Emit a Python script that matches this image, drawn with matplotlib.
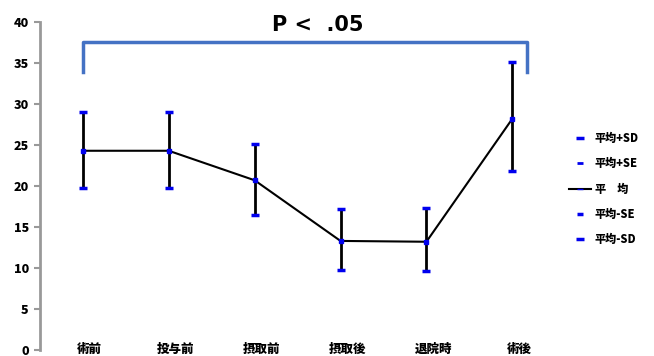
import matplotlib.pyplot as plt
from matplotlib.lines import Line2D

plt.rcParams['font.family'] = ['Noto Sans CJK JP', 'DejaVu Sans']

# データ
labels = ['術前', '投与前', '摂取前', '摂取後', '退院時', '術後']
mean = [24.3, 24.3, 20.7, 13.3, 13.2, 28.2]
sd_upper = [29.0, 29.0, 25.1, 17.2, 17.3, 35.1]
sd_lower = [19.8, 19.7, 16.5, 9.8, 9.6, 21.8]
yticks = [0, 5, 10, 15, 20, 25, 30, 35, 40]
legend_labels = ['平均+SD', '平均+SE', '平　均', '平均-SE', '平均-SD']

x = list(range(1, len(labels) + 1))

fig = plt.figure(figsize=(6.54, 3.56), dpi=100)
ax = fig.add_axes([0.061, 0.017, 0.788, 0.921])

# 誤差棒
for xi, lo, hi in zip(x, sd_lower, sd_upper):
    ax.plot([xi, xi], [lo, hi], color='black', lw=2, zorder=2)
ax.plot(x, sd_upper, ls='none', marker='_', ms=6, mew=2.5, color='#0000ee', zorder=3)
ax.plot(x, sd_lower, ls='none', marker='_', ms=6, mew=2.5, color='#0000ee', zorder=3)

# 平均
ax.plot(x, mean, color='black', lw=1.5, zorder=2)
ax.plot(x, mean, ls='none', marker='s', ms=3, color='#0000ee', zorder=4)

# 有意差の括弧
bx = [1.0, 1.0, 6.17, 6.17]
by = [33.9, 37.6, 37.6, 33.9]
ax.plot(bx, by, color='#4472c4', lw=2.5, clip_on=False)
ax.text(3.73, 39.6, 'P <  .05', ha='center', va='center', fontsize=15,
        fontweight='bold', family=['DejaVu Sans'])

ax.set_xlim(0.5, 6.5)
ax.set_ylim(0, 40)
ax.set_yticks(yticks)
ax.set_yticklabels([str(t) for t in yticks], fontweight='heavy', fontsize=9)
ax.tick_params(axis='y', length=4, width=1.5, color='#999999', pad=4)
ax.set_xticks([])
for s in ['top', 'right', 'bottom']:
    ax.spines[s].set_visible(False)
ax.spines['left'].set_color('#999999')
ax.spines['left'].set_linewidth(2)

for xi, lab in zip(x, labels):
    ax.text(xi + 0.08, 0.1, lab, ha='center', va='center', fontsize=9, fontweight='heavy')

# 凡例
handles = [
    Line2D([], [], ls='none', marker='_', ms=6, mew=2.5, color='#0000ee'),
    Line2D([], [], ls='none', marker='_', ms=5, mew=2, color='#0000ee'),
    Line2D([], [], color='black', lw=1.5, marker='_', ms=5, mec='#0000ee'),
    Line2D([], [], ls='none', marker='_', ms=5, mew=2.5, color='#0000ee'),
    Line2D([], [], ls='none', marker='_', ms=6, mew=2.5, color='#0000ee'),
]
fig.legend(handles, legend_labels, loc='center left', bbox_to_anchor=(0.855, 0.47),
           frameon=False, prop={'weight': 'heavy', 'size': 8}, labelspacing=1.2,
           handlelength=2.0, handletextpad=0.3)

fig.savefig('out.png', dpi=100)
